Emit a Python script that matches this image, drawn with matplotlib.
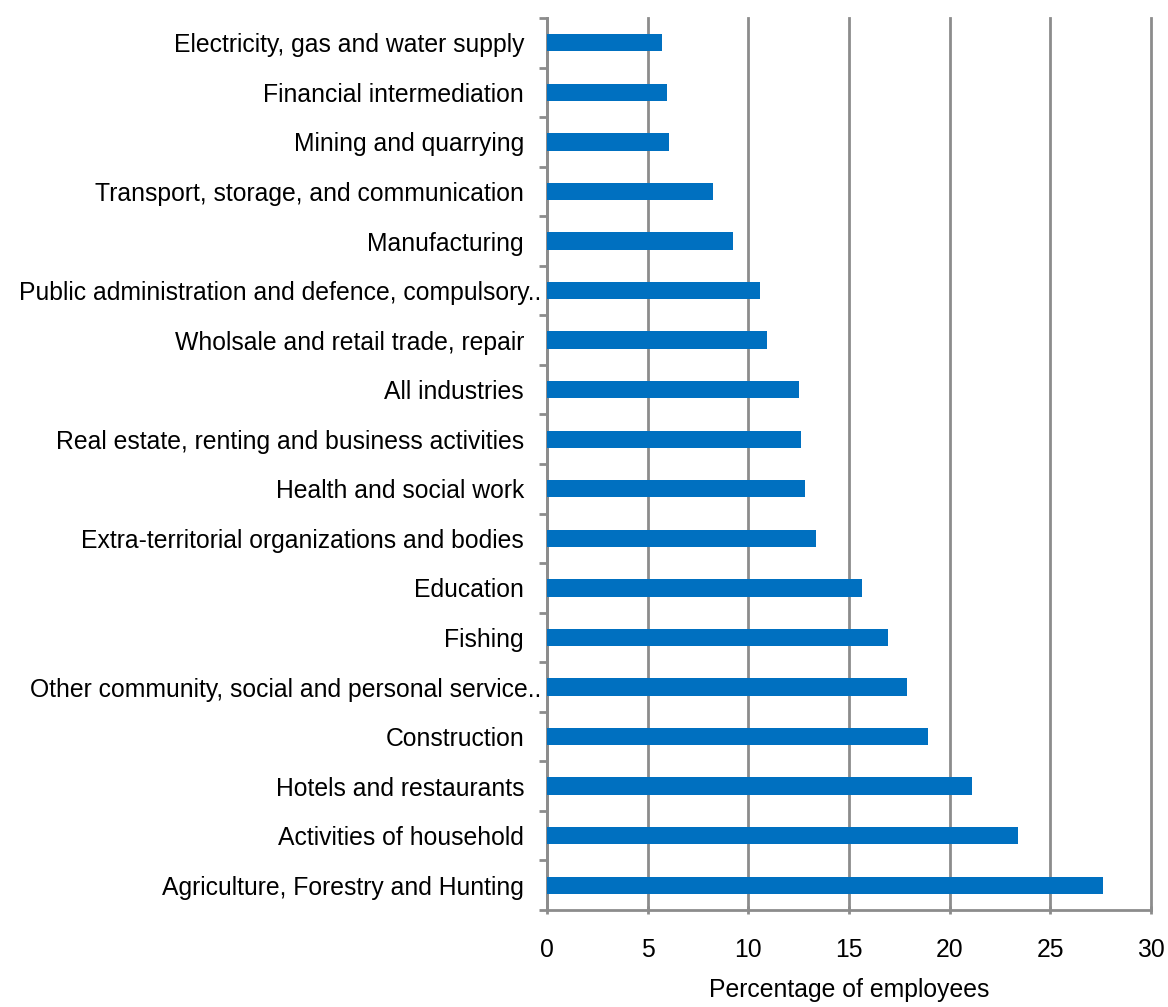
import numpy as np
import matplotlib
matplotlib.use("Agg")
import matplotlib.pyplot as plt
from matplotlib.transforms import ScaledTranslation

plt.rcParams['font.family'] = ['Liberation Sans', 'DejaVu Sans']

# industries, top to bottom as shown
industries = [
    "Electricity, gas and water supply",
    "Financial intermediation",
    "Mining and quarrying",
    "Transport, storage, and communication",
    "Manufacturing",
    "Public administration and defence, compulsory..",
    "Wholsale and retail trade, repair",
    "All industries",
    "Real estate, renting and business activities",
    "Health and social work",
    "Extra-territorial organizations and bodies",
    "Education",
    "Fishing",
    "Other community, social and personal service..",
    "Construction",
    "Hotels and restaurants",
    "Activities of household",
    "Agriculture, Forestry and Hunting",
]
pct_employees = [5.7, 5.95, 6.05, 8.25, 9.25, 10.6, 10.95, 12.5, 12.6, 12.8,
                 13.35, 15.65, 16.95, 17.9, 18.9, 21.1, 23.4, 27.6]
x_ticks = [0, 5, 10, 15, 20, 25, 30]

blue = "#0070C0"
grey = "#8c8c8c"
fs = 17.8

fig = plt.figure(figsize=(11.68, 10.07), dpi=100)
ax = fig.add_axes([547/1168, 1 - 910/1007, (1151 - 547)/1168, (910 - 18)/1007])

y = np.arange(len(industries))
ax.barh(y, pct_employees, height=0.35, color=blue, zorder=3)

ax.set_xlim(0, 30)
ax.set_ylim(len(industries) - 0.5, -0.5)
ax.set_xticks(x_ticks)
ax.set_xticklabels([str(t) for t in x_ticks], fontsize=fs)
ax.set_yticks(y)
ax.set_yticklabels(industries, fontsize=fs)
ax.set_yticks(np.arange(len(industries) + 1) - 0.5, minor=True)

ax.tick_params(axis='y', which='major', length=0, pad=16.5)
ax.tick_params(axis='y', which='minor', length=6, width=2, color=grey, direction='out')
ax.tick_params(axis='x', length=6, width=2, color=grey, direction='inout', pad=17)

# truncated labels sit closer to the axis
for lab in ax.get_yticklabels():
    if lab.get_text().endswith(".."):
        lab.set_transform(lab.get_transform() + ScaledTranslation(17/100, 0, fig.dpi_scale_trans))

ax.xaxis.grid(True, color=grey, linewidth=2, zorder=0)
for gl in ax.get_xgridlines():
    gl.set_clip_on(False)
ax.set_axisbelow(True)

for s in ['top', 'right']:
    ax.spines[s].set_visible(False)
for s in ['left', 'bottom']:
    ax.spines[s].set_color(grey)
    ax.spines[s].set_linewidth(2)

ax.set_xlabel("Percentage of employees", fontsize=fs, labelpad=12)

fig.savefig("out.png", dpi=100)
